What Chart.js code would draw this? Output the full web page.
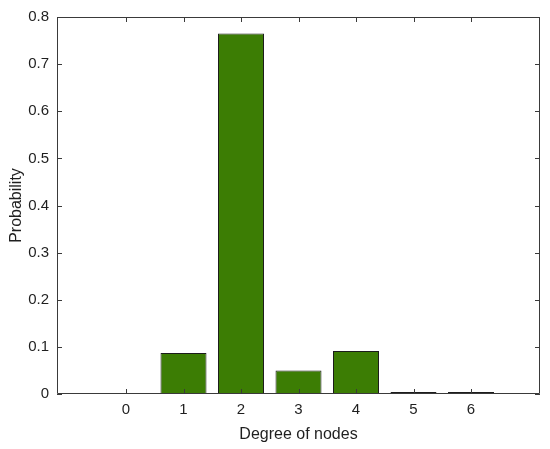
<!DOCTYPE html>
<html>
<head>
<meta charset="utf-8">
<script src="https://cdn.jsdelivr.net/npm/chart.js@4"></script>
<style>
  html, body { margin: 0; padding: 0; background: #fff; }
  canvas { display: block; }
</style>
</head>
<body>
<canvas id="chart" width="550" height="449"></canvas>
<script>
// degree distribution
const degrees = [0, 1, 2, 3, 4, 5, 6];
const probability = [0, 0.087, 0.765, 0.05, 0.091, 0.004, 0.004];
const yTicks = [0, 0.1, 0.2, 0.3, 0.4, 0.5, 0.6, 0.7, 0.8];

const axisColor = "#3a3a3a";
const textColor = "#1f1f1f";
const fontFamily = "'Liberation Sans', Arial, sans-serif";

// box around the plot + inward ticks on all four sides
const boxTicks = {
  id: "boxTicks",
  afterDraw(chart) {
    const { ctx, chartArea: a, scales } = chart;
    const len = 5;
    ctx.save();
    ctx.strokeStyle = axisColor;
    ctx.lineWidth = 1;
    ctx.beginPath();
    ctx.rect(a.left + 0.5, a.top + 0.5, a.right - a.left - 1, a.bottom - a.top - 1);
    degrees.forEach((d) => {
      const x = Math.round(scales.x.getPixelForValue(d)) + 0.5;
      ctx.moveTo(x, a.bottom);
      ctx.lineTo(x, a.bottom - len);
      ctx.moveTo(x, a.top);
      ctx.lineTo(x, a.top + len);
    });
    yTicks.forEach((v) => {
      const y = Math.round(scales.y.getPixelForValue(v)) + 0.5;
      ctx.moveTo(a.left, y);
      ctx.lineTo(a.left + len, y);
      ctx.moveTo(a.right, y);
      ctx.lineTo(a.right - len, y);
    });
    ctx.stroke();
    ctx.restore();
  },
};

new Chart(document.getElementById("chart").getContext("2d"), {
  type: "bar",
  data: {
    datasets: [
      {
        data: degrees.map((d, i) => ({ x: d, y: probability[i] })),
        backgroundColor: "#3c7d04",
        borderColor: "#1c1c1c",
        borderWidth: 1,
        borderSkipped: false,
        barPercentage: 0.8,
        categoryPercentage: 1,
      },
    ],
  },
  options: {
    responsive: false,
    animation: false,
    layout: { padding: { top: 12, right: 10, left: 0, bottom: 0 } },
    plugins: { legend: { display: false }, tooltip: { enabled: false } },
    scales: {
      x: {
        type: "linear",
        offset: false,
        min: -1.2,
        max: 7.2,
        afterBuildTicks: (s) => { s.ticks = degrees.map((v) => ({ value: v })); },
        afterFit: (s) => { s.height = 55; },
        grid: { display: false, drawTicks: false, offset: false },
        border: { display: false },
        ticks: { padding: 7, color: textColor, font: { family: fontFamily, size: 15 } },
        title: {
          display: true,
          text: "Degree of nodes",
          color: textColor,
          padding: { top: 0, bottom: 5 },
          font: { family: fontFamily, size: 16 },
        },
      },
      y: {
        min: 0,
        max: 0.8,
        afterBuildTicks: (s) => { s.ticks = yTicks.map((v) => ({ value: v })); },
        afterFit: (s) => { s.width = 57; },
        grid: { display: false, drawTicks: false },
        border: { display: false },
        ticks: { padding: 8, color: textColor, font: { family: fontFamily, size: 15 } },
        title: {
          display: true,
          text: "Probability",
          color: textColor,
          padding: { top: 7 },
          font: { family: fontFamily, size: 16 },
        },
      },
    },
  },
  plugins: [boxTicks],
});
</script>
</body>
</html>
